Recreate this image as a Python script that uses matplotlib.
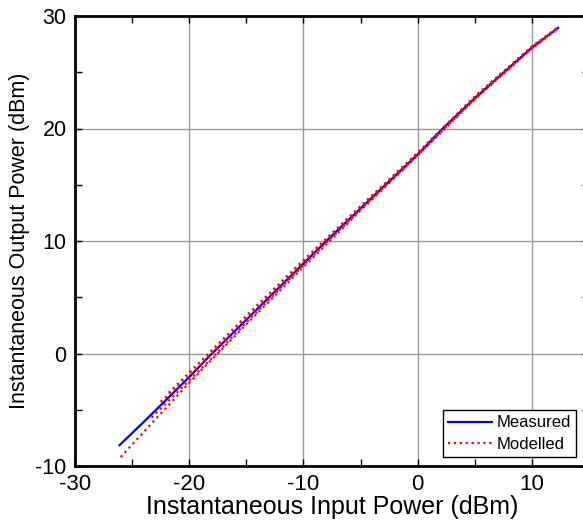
import matplotlib
matplotlib.use("Agg")
import matplotlib.pyplot as plt
from matplotlib.ticker import MultipleLocator

plt.rcParams['font.family'] = ['Liberation Sans', 'DejaVu Sans']
plt.rcParams['axes.unicode_minus'] = False

# gemessene Kennlinie (Pin -> Pout)
meas_x = [-26.1, -24, -22, -20, -18.2, -15, -10, -8, -5, 0, 2.2, 5, 10, 12.3]
meas_y = [-8.15, -6.1, -4.1, -2.1, -0.2, 3.0, 8.0, 10.0, 12.9, 17.7, 20.0, 22.7, 27.2, 28.95]

# Modell-Kurven (mehrere Spuren durch Memory-Effekte)
mod1_x = [-26.0, -24, -22, -20, -18, -15, -10, -5, 0, 5, 10, 12.3]
mod1_y = [-9.2, -7.0, -4.8, -2.6, -0.5, 2.6, 7.7, 12.7, 17.6, 22.6, 27.1, 28.9]
mod2_x = [-23.3, -22, -20, -18, -15, -10, -5, 0, 5, 10, 12.2]
mod2_y = [-5.7, -4.4, -2.4, -0.4, 2.75, 7.85, 12.8, 17.65, 22.65, 27.15, 28.85]
mod3_x = [-21.8, -20, -18, -15, -10, -5, 0, 5, 10, 12.3]
mod3_y = [-3.5, -1.7, 0.3, 3.35, 8.3, 13.1, 17.85, 22.85, 27.3, 29.0]
mod4_x = [-22.5, -20, -18, -15, -10, -5, 0, 5, 10, 12.2]
mod4_y = [-4.3, -2.0, 0.0, 3.1, 8.1, 12.95, 17.75, 22.75, 27.2, 28.9]

fig = plt.figure(figsize=(5.83, 5.29), dpi=100)
ax = fig.add_axes([75/583, 63/529, 514/583, 450/529])

ax.plot(meas_x, meas_y, color='blue', lw=1.6, label='Measured')
ax.plot(mod1_x, mod1_y, color='red', lw=1.6, ls=':', label='Modelled')
ax.plot(mod2_x, mod2_y, color='red', lw=1.6, ls=':')
ax.plot(mod3_x, mod3_y, color='red', lw=1.6, ls=':')
ax.plot(mod4_x, mod4_y, color='red', lw=1.6, ls=':')

ax.set_xlim(-30, 15)
ax.set_ylim(-10, 30)
ax.xaxis.set_major_locator(MultipleLocator(10))
ax.xaxis.set_minor_locator(MultipleLocator(5))
ax.yaxis.set_major_locator(MultipleLocator(10))
ax.yaxis.set_minor_locator(MultipleLocator(5))
ax.grid(True, which='major', color='#999999', lw=1)
ax.set_axisbelow(True)
ax.tick_params(which='both', direction='in', top=True, right=True, width=1,
               length=5, color='black')
ax.tick_params(axis='x', labelsize=16, pad=6)
ax.tick_params(axis='y', labelsize=15.5, pad=6)
for s in ax.spines.values():
    s.set_linewidth(2)

ax.set_xlabel('Instantaneous Input Power (dBm)', fontsize=18, labelpad=0)
ax.set_ylabel('Instantaneous Output Power (dBm)', fontsize=15.5, labelpad=4)

leg = ax.legend(loc='lower right', fontsize=12, fancybox=False,
                framealpha=1, edgecolor='black', handlelength=2.6,
                handletextpad=0.3, borderpad=0.3, labelspacing=0.4,
                borderaxespad=0)
leg.set_bbox_to_anchor((576/583, 72/529), transform=fig.transFigure)
leg.get_frame().set_linewidth(1)

fig.savefig('out.png', dpi=100)
